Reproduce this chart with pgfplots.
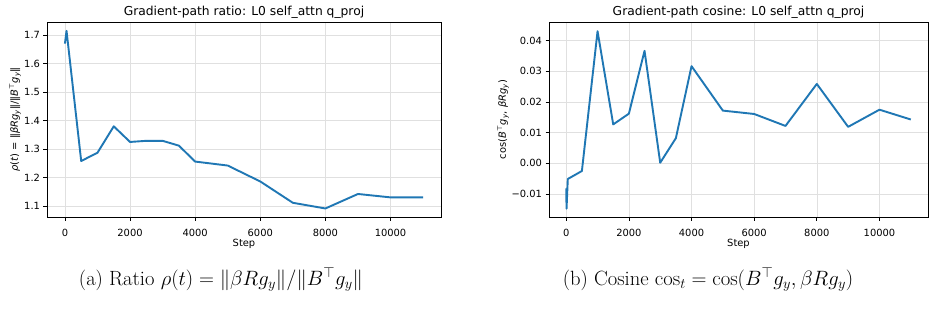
\documentclass[border=0pt]{standalone}
\usepackage{pgfplots}
\pgfplotsset{compat=1.18}
\usepackage[no-math]{fontspec}
\setmainfont{DejaVu Sans}
\newfontfamily\lmr{Latin Modern Roman}
\definecolor{mplblue}{RGB}{31,119,180}
\newcommand{\mysub}[1]{\textsubscript{#1}}
\newcommand{\mysup}[1]{\textsuperscript{#1}}
\begin{document}
\begin{tikzpicture}
\fill[white] (0,0) rectangle (939pt,316pt);
\useasboundingbox (0,0) rectangle (939pt,316pt);
\pgfplotsset{
  myaxis/.style={
    scale only axis,
    height=195pt,
    xmin=-550, xmax=11550,
    xtick={0,2000,4000,6000,8000,10000},
    xticklabels={0,2000,4000,6000,8000,10000},
    scaled ticks=false,
    tick align=outside,
    xtick pos=left, ytick pos=left,
    major tick length=3.5pt,
    tick style={black, line width=0.7pt},
    axis line style={black, line width=0.9pt},
    grid=major,
    major grid style={black!12, line width=0.6pt},
    ticklabel style={font=\fontsize{9.9}{11}\selectfont},
    label style={font=\fontsize{9.9}{11}\selectfont},
    title style={font=\fontsize{12.3}{14}\selectfont, at={(0.5,1)}, anchor=base, yshift=0pt},
    xlabel style={at={(axis description cs:0.5,0)}, anchor=base, yshift=-29pt},
    xticklabel style={anchor=base, yshift=-15.7pt},
    yticklabel style={anchor=east},
  }
}
\begin{axis}[myaxis,
  at={(47pt,99pt)}, anchor=south west,
  width=394pt,
  ymin=1.061, ymax=1.747,
  ytick={1.1,1.2,1.3,1.4,1.5,1.6,1.7},
  yticklabels={1.1,1.2,1.3,1.4,1.5,1.6,1.7},
  title={Gradient-path ratio: L0 self\_attn q\_proj},
  xlabel={Step},
  ylabel={\textit{ρ}(\textit{t}) = ‖\textit{βRg}\mysub{\textit{y}}‖/‖\textit{B}\mysup{⊤}\textit{g}\mysub{\textit{y}}‖},
  ylabel style={at={(axis description cs:0,0.5)}, anchor=center, yshift=32pt},
]
\addplot[mplblue, line width=1.9pt, line join=round, no markers] coordinates {
(0,1.671) (50,1.716) (500,1.258) (1000,1.287) (1500,1.380) (2000,1.325)
(2500,1.329) (3000,1.329) (3500,1.312) (4000,1.256) (5000,1.242)
(6000,1.186) (7000,1.111) (8000,1.091) (9000,1.142) (10000,1.130) (11000,1.130)
};
\end{axis}
\begin{axis}[myaxis,
  at={(549pt,99pt)}, anchor=south west,
  width=379pt,
  ymin=-0.0175, ymax=0.0461,
  ytick={-0.01,0,0.01,0.02,0.03,0.04},
  yticklabels={−0.01,0.00,0.01,0.02,0.03,0.04},
  title={Gradient-path cosine: L0 self\_attn q\_proj},
  xlabel={Step},
  ylabel={cos(\textit{B}\mysup{⊤}\textit{g}\mysub{\textit{y}}, \textit{βRg}\mysub{\textit{y}})},
  ylabel style={at={(axis description cs:0,0.5)}, anchor=center, yshift=46pt},
]
\addplot[mplblue, line width=1.9pt, line join=round, no markers] coordinates {
(0,-0.0082) (10,-0.0148) (50,-0.0051) (500,-0.0025) (1000,0.0431) (1500,0.0127)
(2000,0.0162) (2500,0.0367) (3000,0.0002) (3500,0.0082) (4000,0.0317)
(5000,0.0172) (6000,0.0161) (7000,0.0122) (8000,0.0259) (9000,0.0119)
(10000,0.0175) (11000,0.0143)
};
\end{axis}
\node[anchor=base, font=\lmr\fontsize{20.6}{24}\selectfont] at (221pt,30.5pt)
  {(a) Ratio $\rho(t) = \|\beta R g_y\|/\|B^\top g_y\|$};
\node[anchor=base, font=\lmr\fontsize{20.6}{24}\selectfont] at (708pt,30.5pt)
  {(b) Cosine $\cos_t = \cos(B^\top g_y, \beta R g_y)$};
\end{tikzpicture}
\end{document}
